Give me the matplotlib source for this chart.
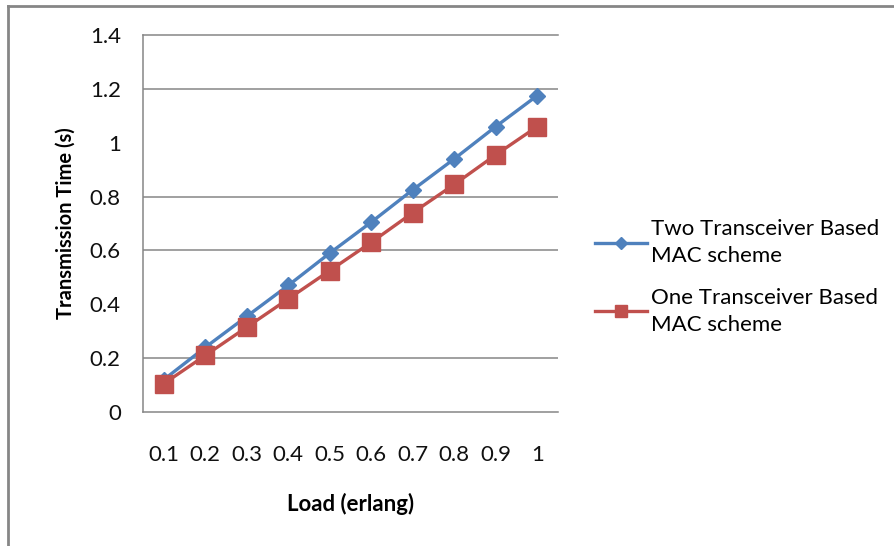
import matplotlib.pyplot as plt
from matplotlib.lines import Line2D

# Load values (categories on the x axis)
loads = ['0.1', '0.2', '0.3', '0.4', '0.5', '0.6', '0.7', '0.8', '0.9', '1']
# Transmission time for each scheme
two_trx = [0.12, 0.24, 0.355, 0.47, 0.59, 0.705, 0.825, 0.94, 1.06, 1.175]
one_trx = [0.105, 0.21, 0.315, 0.42, 0.525, 0.63, 0.74, 0.845, 0.955, 1.06]
series_names = ['Two Transceiver Based\nMAC scheme', 'One Transceiver Based\nMAC scheme']
y_ticks = [0, 0.2, 0.4, 0.6, 0.8, 1, 1.2, 1.4]
grid_levels = [0.2, 0.6, 0.8, 1.2]

plt.rcParams['font.family'] = ['Lato', 'DejaVu Sans']

W, H = 895, 546
fig = plt.figure(figsize=(W / 100, H / 100), dpi=100)
# Axes placed in pixel terms: left 143, right 558, top 35, bottom 412
ax = fig.add_axes([143 / W, 1 - 412 / H, (558 - 143) / W, (412 - 35) / H])

x = list(range(len(loads)))
ax.plot(x, two_trx, color='#4F81BD', linewidth=2.4, marker='D',
        markersize=8, label=series_names[0], zorder=3)
ax.plot(x, one_trx, color='#C0504D', linewidth=2.4, marker='s',
        markersize=13.5, label=series_names[1], zorder=3)

for g in grid_levels:
    ax.axhline(g, color='#868686', linewidth=1.1, zorder=1)

ax.set_xlim(-0.5, len(loads) - 0.5)
ax.set_ylim(0, 1.4)
ax.set_xticks(x)
ax.set_xticklabels(loads)
ax.set_yticks(y_ticks)
ax.set_yticklabels(['0', '0.2', '0.4', '0.6', '0.8', '1', '1.2', '1.4'])
ax.tick_params(axis='both', length=0, labelsize=16, colors='#111111')
ax.tick_params(axis='y', pad=16)
ax.tick_params(axis='x', pad=24)

for side in ['left', 'top', 'bottom']:
    ax.spines[side].set_color('#868686')
    ax.spines[side].set_linewidth(1.1)
ax.spines['right'].set_visible(False)

ax.set_xlabel('Load (erlang)', fontsize=16, fontweight='bold', labelpad=20)
ax.set_ylabel('Transmission Time (s)', fontsize=14.5, fontweight='bold', labelpad=10)

leg = ax.legend(loc='center left', bbox_to_anchor=(595 / W, 1 - 277 / H),
                bbox_transform=fig.transFigure, frameon=False, fontsize=16,
                handlelength=2.35, handletextpad=0.15, labelspacing=0.95,
                borderpad=0, borderaxespad=0)
for t in leg.get_texts():
    t.set_linespacing(1.45)
leg.legend_handles[0].set_markersize(6)
leg.legend_handles[1].set_markersize(9)

# Outer chart border (only top and left edges visible in the reference)
fig.add_artist(Line2D([8 / W, 1], [1 - 6 / H, 1 - 6 / H], color='#868686', linewidth=2))
fig.add_artist(Line2D([8 / W, 8 / W], [0, 1 - 6 / H], color='#868686', linewidth=2))

fig.savefig('out.png', dpi=100)
